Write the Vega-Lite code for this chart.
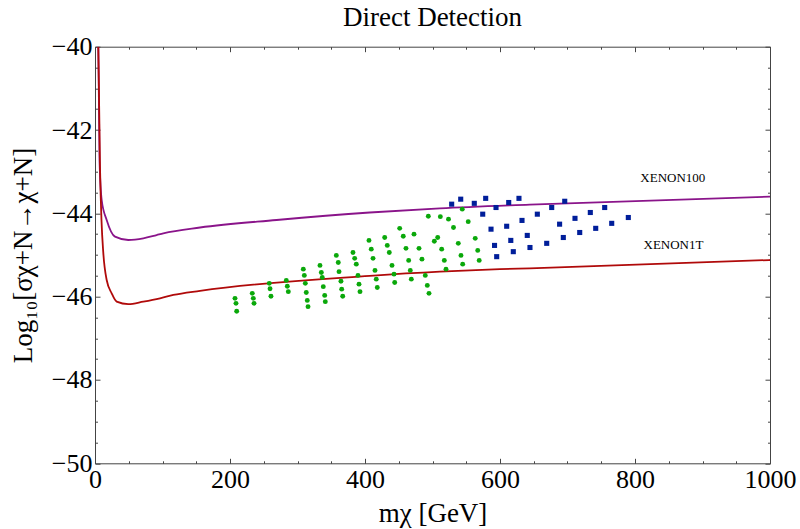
{
  "$schema": "https://vega.github.io/schema/vega-lite/v6.json",
  "width": 675,
  "height": 416.6,
  "autosize": "none",
  "padding": {"left": 95, "top": 46.7, "right": 30, "bottom": 65.7},
  "background": "white",
  "title": {"text": "Direct Detection", "font": "Liberation Serif", "fontSize": 27, "fontWeight": "normal", "color": "black", "baseline": "alphabetic", "offset": -19, "anchor": "middle"},
  "config": {
    "view": {"stroke": null},
    "axis": {"grid": false, "domainColor": "#444", "tickColor": "#444", "domainWidth": 1, "tickWidth": 1, "labelFont": "Liberation Serif", "labelColor": "black", "titleFont": "Liberation Serif", "titleColor": "black", "titleFontWeight": "normal", "labelFlush": false, "labelOverlap": false}
  },
  "datasets": {
    "curves": [
      {"series": "XENON100", "m": 4.9, "v": -40.0},
      {"series": "XENON100", "m": 5.5, "v": -40.8},
      {"series": "XENON100", "m": 6.7, "v": -42.72},
      {"series": "XENON100", "m": 9.9, "v": -43.68},
      {"series": "XENON100", "m": 17.3, "v": -44.16},
      {"series": "XENON100", "m": 29.6, "v": -44.56},
      {"series": "XENON100", "m": 49.3, "v": -44.64},
      {"series": "XENON100", "m": 71.6, "v": -44.6},
      {"series": "XENON100", "m": 91.4, "v": -44.52},
      {"series": "XENON100", "m": 101.2, "v": -44.48},
      {"series": "XENON100", "m": 155.6, "v": -44.34},
      {"series": "XENON100", "m": 269, "v": -44.16},
      {"series": "XENON100", "m": 407, "v": -43.98},
      {"series": "XENON100", "m": 511, "v": -43.88},
      {"series": "XENON100", "m": 644, "v": -43.79},
      {"series": "XENON100", "m": 1000, "v": -43.6},
      {"series": "XENON1T", "m": 4.9, "v": -40.0},
      {"series": "XENON1T", "m": 7.4, "v": -42.88},
      {"series": "XENON1T", "m": 9.6, "v": -44.16},
      {"series": "XENON1T", "m": 12.3, "v": -44.95},
      {"series": "XENON1T", "m": 17.3, "v": -45.6},
      {"series": "XENON1T", "m": 24.7, "v": -45.92},
      {"series": "XENON1T", "m": 32.1, "v": -46.12},
      {"series": "XENON1T", "m": 49.3, "v": -46.18},
      {"series": "XENON1T", "m": 71.6, "v": -46.12},
      {"series": "XENON1T", "m": 96.3, "v": -46.04},
      {"series": "XENON1T", "m": 116, "v": -45.96},
      {"series": "XENON1T", "m": 155.6, "v": -45.86},
      {"series": "XENON1T", "m": 407, "v": -45.5},
      {"series": "XENON1T", "m": 511, "v": -45.4},
      {"series": "XENON1T", "m": 600, "v": -45.34},
      {"series": "XENON1T", "m": 644, "v": -45.32},
      {"series": "XENON1T", "m": 1000, "v": -45.12}
    ],
    "green": [
      {"m": 207.4, "v": -46.04}, {"m": 208.9, "v": -46.16}, {"m": 209.9, "v": -46.35},
      {"m": 233.0, "v": -45.92}, {"m": 234.5, "v": -46.04}, {"m": 235.6, "v": -46.16},
      {"m": 258.2, "v": -45.68}, {"m": 259.3, "v": -45.81}, {"m": 260.7, "v": -45.99},
      {"m": 283.4, "v": -45.61}, {"m": 284.9, "v": -45.75}, {"m": 286.4, "v": -45.88},
      {"m": 308.6, "v": -45.34}, {"m": 310.1, "v": -45.49}, {"m": 311.6, "v": -45.68}, {"m": 313.0, "v": -45.9}, {"m": 314.5, "v": -46.09}, {"m": 315.6, "v": -46.24},
      {"m": 333.3, "v": -45.25}, {"m": 335.3, "v": -45.42}, {"m": 336.7, "v": -45.54}, {"m": 338.2, "v": -45.76}, {"m": 340.3, "v": -45.97}, {"m": 341.2, "v": -46.12},
      {"m": 357.5, "v": -45.01}, {"m": 360.4, "v": -45.18}, {"m": 361.5, "v": -45.4}, {"m": 364.4, "v": -45.63}, {"m": 365.5, "v": -45.82}, {"m": 367.0, "v": -45.99},
      {"m": 382.2, "v": -44.94}, {"m": 384.7, "v": -45.08}, {"m": 387.1, "v": -45.22}, {"m": 389.6, "v": -45.49}, {"m": 391.1, "v": -45.7}, {"m": 392.6, "v": -45.88},
      {"m": 405.9, "v": -44.65}, {"m": 409.3, "v": -44.86}, {"m": 411.9, "v": -45.08}, {"m": 414.8, "v": -45.37}, {"m": 416.7, "v": -45.58}, {"m": 418.2, "v": -45.78},
      {"m": 429.2, "v": -44.58}, {"m": 433.0, "v": -44.77}, {"m": 436.0, "v": -44.94}, {"m": 440.0, "v": -45.25}, {"m": 443.0, "v": -45.46}, {"m": 444.0, "v": -45.66},
      {"m": 451.4, "v": -44.36}, {"m": 456.7, "v": -44.55}, {"m": 460.7, "v": -44.84}, {"m": 464.7, "v": -45.13}, {"m": 467.1, "v": -45.37}, {"m": 468.6, "v": -45.58},
      {"m": 472.6, "v": -44.5}, {"m": 480.0, "v": -44.84}, {"m": 484.4, "v": -45.1}, {"m": 489.3, "v": -45.49}, {"m": 492.3, "v": -45.73}, {"m": 494.8, "v": -45.92},
      {"m": 493.8, "v": -44.07}, {"m": 502.7, "v": -44.67}, {"m": 507.7, "v": -44.58}, {"m": 511.6, "v": -44.08}, {"m": 513.6, "v": -44.86}, {"m": 517.5, "v": -45.13},
      {"m": 520.0, "v": -45.34}, {"m": 523.7, "v": -44.14}, {"m": 531.1, "v": -44.34}, {"m": 538.2, "v": -44.72}, {"m": 542.2, "v": -45.01}, {"m": 544.7, "v": -45.22},
      {"m": 544.1, "v": -43.9}, {"m": 552.9, "v": -44.2}, {"m": 563.3, "v": -44.6}, {"m": 567.0, "v": -44.89}, {"m": 569.2, "v": -45.13}
    ],
    "blue": [
      {"m": 528.4, "v": -43.78}, {"m": 541.8, "v": -43.66}, {"m": 561.9, "v": -43.76}, {"m": 578.8, "v": -43.64},
      {"m": 594.1, "v": -43.86}, {"m": 612.9, "v": -43.74}, {"m": 628.1, "v": -43.64}, {"m": 574.4, "v": -44.02},
      {"m": 586.7, "v": -44.38}, {"m": 609.9, "v": -44.31}, {"m": 632.6, "v": -44.17}, {"m": 655.3, "v": -44.02},
      {"m": 676.6, "v": -43.86}, {"m": 695.9, "v": -43.71}, {"m": 591.9, "v": -44.77}, {"m": 616.0, "v": -44.65},
      {"m": 640.4, "v": -44.53}, {"m": 595.1, "v": -45.04}, {"m": 619.7, "v": -44.92}, {"m": 644.4, "v": -44.82},
      {"m": 669.2, "v": -44.72}, {"m": 688.3, "v": -44.26}, {"m": 711.1, "v": -44.12}, {"m": 733.8, "v": -43.98},
      {"m": 755.1, "v": -43.86}, {"m": 790.1, "v": -44.1}, {"m": 765.5, "v": -44.24}, {"m": 741.8, "v": -44.36},
      {"m": 718.1, "v": -44.46}, {"m": 693.8, "v": -44.58}
    ],
    "labels": [
      {"m": 856, "v": -43.14, "label": "XENON100"},
      {"m": 857, "v": -44.76, "label": "XENON1T"}
    ]
  },
  "resolve": {"axis": {"x": "independent", "y": "independent"}},
  "layer": [
    {
      "data": {"name": "curves"},
      "mark": {"type": "line", "strokeWidth": 1.8, "clip": true, "interpolate": "monotone"},
      "encoding": {
        "x": {"field": "m", "type": "quantitative", "scale": {"domain": [0, 1000], "nice": false, "zero": false},
          "axis": {"orient": "bottom", "values": [0, 200, 400, 600, 800, 1000], "format": "d", "tickSize": -5, "labelPadding": 8, "labelFontSize": 26, "title": "mχ [GeV]", "titleFontSize": 27, "titlePadding": 8}},
        "y": {"field": "v", "type": "quantitative", "scale": {"domain": [-50, -40], "nice": false, "zero": false},
          "axis": {"orient": "left", "values": [-50, -48, -46, -44, -42, -40], "tickSize": -5, "labelPadding": 8, "labelFontSize": 26, "title": "Log₁₀[σχ+N→χ+N]", "titleFontSize": 27, "titlePadding": 14}},
        "color": {"field": "series", "type": "nominal", "scale": {"domain": ["XENON100", "XENON1T"], "range": ["#8a148a", "#b00a0a"]}, "legend": null},
        "detail": {"field": "series"}
      }
    },
    {
      "data": {"name": "green"},
      "mark": {"type": "point", "shape": "circle", "filled": true, "size": 24, "color": "#0aa80a", "opacity": 1},
      "encoding": {
        "x": {"field": "m", "type": "quantitative", "scale": {"domain": [0, 1000], "nice": false, "zero": false},
          "axis": {"orient": "bottom", "values": [50, 100, 150, 250, 300, 350, 450, 500, 550, 650, 700, 750, 850, 900, 950], "tickSize": -2.5, "labels": false, "domain": false, "title": null}},
        "y": {"field": "v", "type": "quantitative", "scale": {"domain": [-50, -40], "nice": false, "zero": false},
          "axis": {"orient": "left", "values": [-49.5, -49, -48.5, -47.5, -47, -46.5, -45.5, -45, -44.5, -43.5, -43, -42.5, -41.5, -41, -40.5], "tickSize": -2.5, "labels": false, "domain": false, "title": null}}
      }
    },
    {
      "data": {"name": "blue"},
      "mark": {"type": "point", "shape": "square", "filled": true, "size": 26, "color": "#001e9a", "opacity": 1},
      "encoding": {
        "x": {"field": "m", "type": "quantitative", "scale": {"domain": [0, 1000], "nice": false, "zero": false},
          "axis": {"orient": "top", "values": [0, 200, 400, 600, 800, 1000], "tickSize": -5, "labels": false, "title": null}},
        "y": {"field": "v", "type": "quantitative", "scale": {"domain": [-50, -40], "nice": false, "zero": false},
          "axis": {"orient": "right", "values": [-50, -48, -46, -44, -42, -40], "tickSize": -5, "labels": false, "title": null}}
      }
    },
    {
      "data": {"name": "labels"},
      "mark": {"type": "text", "font": "Liberation Serif", "fontSize": 13, "color": "black", "align": "center", "baseline": "middle"},
      "encoding": {
        "x": {"field": "m", "type": "quantitative", "scale": {"domain": [0, 1000], "nice": false, "zero": false},
          "axis": {"orient": "top", "values": [50, 100, 150, 250, 300, 350, 450, 500, 550, 650, 700, 750, 850, 900, 950], "tickSize": -2.5, "labels": false, "domain": false, "title": null}},
        "y": {"field": "v", "type": "quantitative", "scale": {"domain": [-50, -40], "nice": false, "zero": false},
          "axis": {"orient": "right", "values": [-49.5, -49, -48.5, -47.5, -47, -46.5, -45.5, -45, -44.5, -43.5, -43, -42.5, -41.5, -41, -40.5], "tickSize": -2.5, "labels": false, "domain": false, "title": null}},
        "text": {"field": "label"}
      }
    }
  ]
}
